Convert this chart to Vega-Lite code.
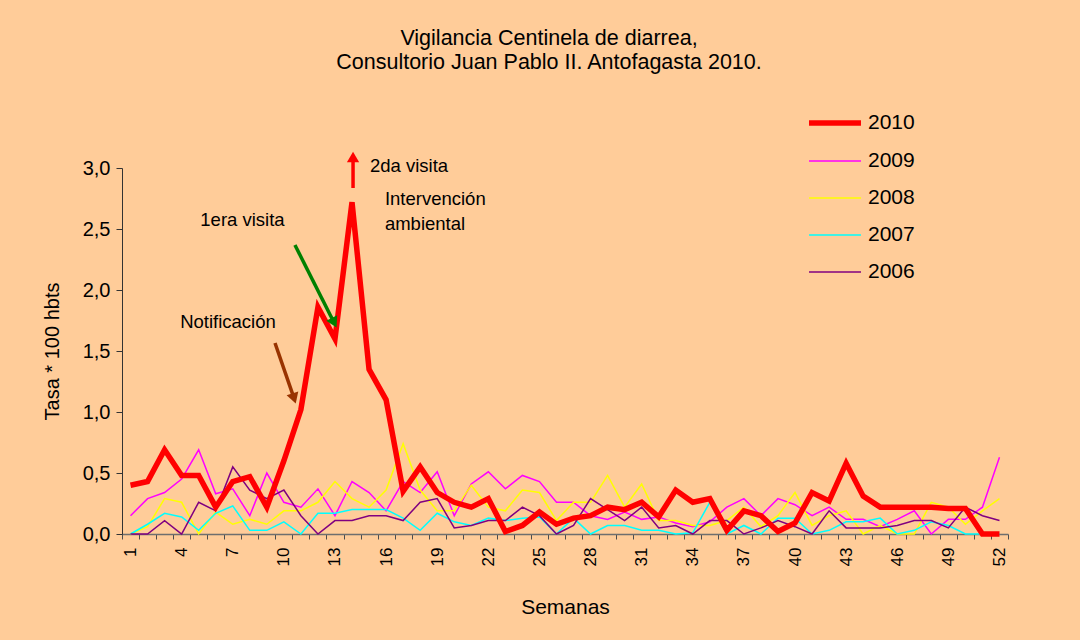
{
  "$schema": "https://vega.github.io/schema/vega-lite/v6.json",
  "width": 886,
  "height": 366,
  "autosize": {"type": "none"},
  "padding": {"left": 122, "top": 168, "right": 72, "bottom": 106},
  "background": "#FFCC99",
  "config": {"view": {"stroke": null}, "font": "Liberation Sans"},
  "title": {
    "text": ["Vigilancia Centinela de diarrea,", "Consultorio Juan Pablo II. Antofagasta 2010."],
    "fontSize": 21.5,
    "font": "Liberation Sans",
    "fontWeight": "normal",
    "color": "#000000",
    "lineHeight": 24,
    "anchor": "middle",
    "frame": "group",
    "dx": -16,
    "offset": 21
  },
  "datasets": {
    "series": [
      {"semana":1,"anio":"2009","tasa":0.15},{"semana":2,"anio":"2009","tasa":0.29},{"semana":3,"anio":"2009","tasa":0.34},{"semana":4,"anio":"2009","tasa":0.45},{"semana":5,"anio":"2009","tasa":0.69},{"semana":6,"anio":"2009","tasa":0.33},{"semana":7,"anio":"2009","tasa":0.37},{"semana":8,"anio":"2009","tasa":0.15},{"semana":9,"anio":"2009","tasa":0.50},{"semana":10,"anio":"2009","tasa":0.26},{"semana":11,"anio":"2009","tasa":0.22},{"semana":12,"anio":"2009","tasa":0.37},{"semana":13,"anio":"2009","tasa":0.15},{"semana":14,"anio":"2009","tasa":0.43},{"semana":15,"anio":"2009","tasa":0.34},{"semana":16,"anio":"2009","tasa":0.19},{"semana":17,"anio":"2009","tasa":0.43},{"semana":18,"anio":"2009","tasa":0.34},{"semana":19,"anio":"2009","tasa":0.51},{"semana":20,"anio":"2009","tasa":0.15},{"semana":21,"anio":"2009","tasa":0.41},{"semana":22,"anio":"2009","tasa":0.51},{"semana":23,"anio":"2009","tasa":0.37},{"semana":24,"anio":"2009","tasa":0.48},{"semana":25,"anio":"2009","tasa":0.43},{"semana":26,"anio":"2009","tasa":0.26},{"semana":27,"anio":"2009","tasa":0.26},{"semana":28,"anio":"2009","tasa":0.15},{"semana":29,"anio":"2009","tasa":0.12},{"semana":30,"anio":"2009","tasa":0.18},{"semana":31,"anio":"2009","tasa":0.12},{"semana":32,"anio":"2009","tasa":0.14},{"semana":33,"anio":"2009","tasa":0.09},{"semana":34,"anio":"2009","tasa":0.06},{"semana":35,"anio":"2009","tasa":0.10},{"semana":36,"anio":"2009","tasa":0.22},{"semana":37,"anio":"2009","tasa":0.29},{"semana":38,"anio":"2009","tasa":0.15},{"semana":39,"anio":"2009","tasa":0.29},{"semana":40,"anio":"2009","tasa":0.24},{"semana":41,"anio":"2009","tasa":0.15},{"semana":42,"anio":"2009","tasa":0.22},{"semana":43,"anio":"2009","tasa":0.12},{"semana":44,"anio":"2009","tasa":0.12},{"semana":45,"anio":"2009","tasa":0.06},{"semana":46,"anio":"2009","tasa":0.12},{"semana":47,"anio":"2009","tasa":0.19},{"semana":48,"anio":"2009","tasa":0.00},{"semana":49,"anio":"2009","tasa":0.12},{"semana":50,"anio":"2009","tasa":0.12},{"semana":51,"anio":"2009","tasa":0.22},{"semana":52,"anio":"2009","tasa":0.63},
      {"semana":1,"anio":"2008","tasa":0.00},{"semana":2,"anio":"2008","tasa":0.06},{"semana":3,"anio":"2008","tasa":0.29},{"semana":4,"anio":"2008","tasa":0.26},{"semana":5,"anio":"2008","tasa":0.00},{"semana":6,"anio":"2008","tasa":0.18},{"semana":7,"anio":"2008","tasa":0.08},{"semana":8,"anio":"2008","tasa":0.12},{"semana":9,"anio":"2008","tasa":0.08},{"semana":10,"anio":"2008","tasa":0.19},{"semana":11,"anio":"2008","tasa":0.19},{"semana":12,"anio":"2008","tasa":0.26},{"semana":13,"anio":"2008","tasa":0.43},{"semana":14,"anio":"2008","tasa":0.29},{"semana":15,"anio":"2008","tasa":0.22},{"semana":16,"anio":"2008","tasa":0.36},{"semana":17,"anio":"2008","tasa":0.74},{"semana":18,"anio":"2008","tasa":0.36},{"semana":19,"anio":"2008","tasa":0.19},{"semana":20,"anio":"2008","tasa":0.19},{"semana":21,"anio":"2008","tasa":0.40},{"semana":22,"anio":"2008","tasa":0.22},{"semana":23,"anio":"2008","tasa":0.19},{"semana":24,"anio":"2008","tasa":0.36},{"semana":25,"anio":"2008","tasa":0.34},{"semana":26,"anio":"2008","tasa":0.11},{"semana":27,"anio":"2008","tasa":0.26},{"semana":28,"anio":"2008","tasa":0.26},{"semana":29,"anio":"2008","tasa":0.48},{"semana":30,"anio":"2008","tasa":0.22},{"semana":31,"anio":"2008","tasa":0.41},{"semana":32,"anio":"2008","tasa":0.11},{"semana":33,"anio":"2008","tasa":0.11},{"semana":34,"anio":"2008","tasa":0.07},{"semana":35,"anio":"2008","tasa":0.07},{"semana":36,"anio":"2008","tasa":0.11},{"semana":37,"anio":"2008","tasa":0.22},{"semana":38,"anio":"2008","tasa":0.06},{"semana":39,"anio":"2008","tasa":0.15},{"semana":40,"anio":"2008","tasa":0.34},{"semana":41,"anio":"2008","tasa":0.07},{"semana":42,"anio":"2008","tasa":0.15},{"semana":43,"anio":"2008","tasa":0.19},{"semana":44,"anio":"2008","tasa":0.00},{"semana":45,"anio":"2008","tasa":0.07},{"semana":46,"anio":"2008","tasa":0.00},{"semana":47,"anio":"2008","tasa":0.00},{"semana":48,"anio":"2008","tasa":0.26},{"semana":49,"anio":"2008","tasa":0.22},{"semana":50,"anio":"2008","tasa":0.08},{"semana":51,"anio":"2008","tasa":0.19},{"semana":52,"anio":"2008","tasa":0.29},
      {"semana":1,"anio":"2007","tasa":0.00},{"semana":2,"anio":"2007","tasa":0.08},{"semana":3,"anio":"2007","tasa":0.17},{"semana":4,"anio":"2007","tasa":0.14},{"semana":5,"anio":"2007","tasa":0.03},{"semana":6,"anio":"2007","tasa":0.17},{"semana":7,"anio":"2007","tasa":0.23},{"semana":8,"anio":"2007","tasa":0.03},{"semana":9,"anio":"2007","tasa":0.03},{"semana":10,"anio":"2007","tasa":0.10},{"semana":11,"anio":"2007","tasa":0.00},{"semana":12,"anio":"2007","tasa":0.17},{"semana":13,"anio":"2007","tasa":0.17},{"semana":14,"anio":"2007","tasa":0.20},{"semana":15,"anio":"2007","tasa":0.20},{"semana":16,"anio":"2007","tasa":0.20},{"semana":17,"anio":"2007","tasa":0.13},{"semana":18,"anio":"2007","tasa":0.03},{"semana":19,"anio":"2007","tasa":0.17},{"semana":20,"anio":"2007","tasa":0.10},{"semana":21,"anio":"2007","tasa":0.07},{"semana":22,"anio":"2007","tasa":0.13},{"semana":23,"anio":"2007","tasa":0.11},{"semana":24,"anio":"2007","tasa":0.13},{"semana":25,"anio":"2007","tasa":0.14},{"semana":26,"anio":"2007","tasa":0.00},{"semana":27,"anio":"2007","tasa":0.13},{"semana":28,"anio":"2007","tasa":0.00},{"semana":29,"anio":"2007","tasa":0.07},{"semana":30,"anio":"2007","tasa":0.07},{"semana":31,"anio":"2007","tasa":0.03},{"semana":32,"anio":"2007","tasa":0.03},{"semana":33,"anio":"2007","tasa":0.00},{"semana":34,"anio":"2007","tasa":0.01},{"semana":35,"anio":"2007","tasa":0.26},{"semana":36,"anio":"2007","tasa":0.00},{"semana":37,"anio":"2007","tasa":0.07},{"semana":38,"anio":"2007","tasa":0.00},{"semana":39,"anio":"2007","tasa":0.13},{"semana":40,"anio":"2007","tasa":0.13},{"semana":41,"anio":"2007","tasa":0.00},{"semana":42,"anio":"2007","tasa":0.03},{"semana":43,"anio":"2007","tasa":0.10},{"semana":44,"anio":"2007","tasa":0.10},{"semana":45,"anio":"2007","tasa":0.13},{"semana":46,"anio":"2007","tasa":0.00},{"semana":47,"anio":"2007","tasa":0.03},{"semana":48,"anio":"2007","tasa":0.10},{"semana":49,"anio":"2007","tasa":0.07},{"semana":50,"anio":"2007","tasa":0.00},{"semana":51,"anio":"2007","tasa":0.00},{"semana":52,"anio":"2007","tasa":0.00},
      {"semana":1,"anio":"2006","tasa":0.00},{"semana":2,"anio":"2006","tasa":0.00},{"semana":3,"anio":"2006","tasa":0.11},{"semana":4,"anio":"2006","tasa":0.00},{"semana":5,"anio":"2006","tasa":0.26},{"semana":6,"anio":"2006","tasa":0.19},{"semana":7,"anio":"2006","tasa":0.55},{"semana":8,"anio":"2006","tasa":0.36},{"semana":9,"anio":"2006","tasa":0.29},{"semana":10,"anio":"2006","tasa":0.36},{"semana":11,"anio":"2006","tasa":0.15},{"semana":12,"anio":"2006","tasa":0.00},{"semana":13,"anio":"2006","tasa":0.11},{"semana":14,"anio":"2006","tasa":0.11},{"semana":15,"anio":"2006","tasa":0.15},{"semana":16,"anio":"2006","tasa":0.15},{"semana":17,"anio":"2006","tasa":0.11},{"semana":18,"anio":"2006","tasa":0.26},{"semana":19,"anio":"2006","tasa":0.29},{"semana":20,"anio":"2006","tasa":0.05},{"semana":21,"anio":"2006","tasa":0.07},{"semana":22,"anio":"2006","tasa":0.11},{"semana":23,"anio":"2006","tasa":0.11},{"semana":24,"anio":"2006","tasa":0.22},{"semana":25,"anio":"2006","tasa":0.15},{"semana":26,"anio":"2006","tasa":0.00},{"semana":27,"anio":"2006","tasa":0.07},{"semana":28,"anio":"2006","tasa":0.29},{"semana":29,"anio":"2006","tasa":0.20},{"semana":30,"anio":"2006","tasa":0.11},{"semana":31,"anio":"2006","tasa":0.22},{"semana":32,"anio":"2006","tasa":0.05},{"semana":33,"anio":"2006","tasa":0.07},{"semana":34,"anio":"2006","tasa":0.00},{"semana":35,"anio":"2006","tasa":0.11},{"semana":36,"anio":"2006","tasa":0.11},{"semana":37,"anio":"2006","tasa":0.00},{"semana":38,"anio":"2006","tasa":0.05},{"semana":39,"anio":"2006","tasa":0.11},{"semana":40,"anio":"2006","tasa":0.06},{"semana":41,"anio":"2006","tasa":0.00},{"semana":42,"anio":"2006","tasa":0.19},{"semana":43,"anio":"2006","tasa":0.05},{"semana":44,"anio":"2006","tasa":0.05},{"semana":45,"anio":"2006","tasa":0.05},{"semana":46,"anio":"2006","tasa":0.07},{"semana":47,"anio":"2006","tasa":0.11},{"semana":48,"anio":"2006","tasa":0.11},{"semana":49,"anio":"2006","tasa":0.05},{"semana":50,"anio":"2006","tasa":0.22},{"semana":51,"anio":"2006","tasa":0.15},{"semana":52,"anio":"2006","tasa":0.11},
      {"semana":1,"anio":"2010","tasa":0.40},{"semana":2,"anio":"2010","tasa":0.43},{"semana":3,"anio":"2010","tasa":0.69},{"semana":4,"anio":"2010","tasa":0.48},{"semana":5,"anio":"2010","tasa":0.48},{"semana":6,"anio":"2010","tasa":0.22},{"semana":7,"anio":"2010","tasa":0.43},{"semana":8,"anio":"2010","tasa":0.47},{"semana":9,"anio":"2010","tasa":0.22},{"semana":10,"anio":"2010","tasa":0.60},{"semana":11,"anio":"2010","tasa":1.02},{"semana":12,"anio":"2010","tasa":1.86},{"semana":13,"anio":"2010","tasa":1.60},{"semana":14,"anio":"2010","tasa":2.72},{"semana":15,"anio":"2010","tasa":1.35},{"semana":16,"anio":"2010","tasa":1.10},{"semana":17,"anio":"2010","tasa":0.35},{"semana":18,"anio":"2010","tasa":0.55},{"semana":19,"anio":"2010","tasa":0.34},{"semana":20,"anio":"2010","tasa":0.26},{"semana":21,"anio":"2010","tasa":0.22},{"semana":22,"anio":"2010","tasa":0.29},{"semana":23,"anio":"2010","tasa":0.02},{"semana":24,"anio":"2010","tasa":0.07},{"semana":25,"anio":"2010","tasa":0.18},{"semana":26,"anio":"2010","tasa":0.08},{"semana":27,"anio":"2010","tasa":0.13},{"semana":28,"anio":"2010","tasa":0.15},{"semana":29,"anio":"2010","tasa":0.22},{"semana":30,"anio":"2010","tasa":0.20},{"semana":31,"anio":"2010","tasa":0.26},{"semana":32,"anio":"2010","tasa":0.14},{"semana":33,"anio":"2010","tasa":0.36},{"semana":34,"anio":"2010","tasa":0.26},{"semana":35,"anio":"2010","tasa":0.29},{"semana":36,"anio":"2010","tasa":0.03},{"semana":37,"anio":"2010","tasa":0.19},{"semana":38,"anio":"2010","tasa":0.15},{"semana":39,"anio":"2010","tasa":0.02},{"semana":40,"anio":"2010","tasa":0.09},{"semana":41,"anio":"2010","tasa":0.34},{"semana":42,"anio":"2010","tasa":0.27},{"semana":43,"anio":"2010","tasa":0.58},{"semana":44,"anio":"2010","tasa":0.31},{"semana":45,"anio":"2010","tasa":0.22},{"semana":46,"anio":"2010","tasa":0.22},{"semana":47,"anio":"2010","tasa":0.22},{"semana":48,"anio":"2010","tasa":0.22},{"semana":49,"anio":"2010","tasa":0.21},{"semana":50,"anio":"2010","tasa":0.21},{"semana":51,"anio":"2010","tasa":0.00},{"semana":52,"anio":"2010","tasa":0.00}
    ],
    "arrows": [
      {"flecha":"notif","semana":9.48,"tasa":1.566,"semana2":10.6,"tasa2":1.112},
      {"flecha":"visita1","semana":10.65,"tasa":2.369,"semana2":12.95,"tasa2":1.732},
      {"flecha":"visita2","semana":14.06,"tasa":2.836,"semana2":14.06,"tasa2":3.09}
    ],
    "notes_center": [
      {"texto":"Notificación","semana":6.72,"tasa":1.738},
      {"texto":"1era visita","semana":7.57,"tasa":2.574}
    ],
    "notes_left": [
      {"texto":"2da visita","semana":15.05,"tasa":3.019},
      {"texto":"Intervención","semana":15.93,"tasa":2.746},
      {"texto":"ambiental","semana":15.93,"tasa":2.541}
    ]
  },
  "layer": [
    {
      "data": {"name": "series"},
      "transform": [{"filter": "datum.anio != '2010'"}],
      "mark": {"type": "line", "clip": false},
      "encoding": {
        "x": {
          "field": "semana", "type": "quantitative",
          "scale": {"domain": [0.5, 52.5], "nice": false, "zero": false},
          "axis": {
            "values": [0.5,1.5,2.5,3.5,4.5,5.5,6.5,7.5,8.5,9.5,10.5,11.5,12.5,13.5,14.5,15.5,16.5,17.5,18.5,19.5,20.5,21.5,22.5,23.5,24.5,25.5,26.5,27.5,28.5,29.5,30.5,31.5,32.5,33.5,34.5,35.5,36.5,37.5,38.5,39.5,40.5,41.5,42.5,43.5,44.5,45.5,46.5,47.5,48.5,49.5,50.5,51.5,52.5],
            "tickCount": 200,
            "labelExpr": "(datum.value < 52 && (datum.value + 0.5) % 3 == 1) ? format(datum.value + 0.5, 'd') : ''",
            "labelOffset": 8.5,
            "labelAngle": -90,
            "labelFontSize": 17,
            "labelColor": "#000000",
            "labelPadding": 8,
            "labelOverlap": false,
            "labelBound": false,
            "labelFlush": false,
            "tickSize": 5,
            "tickColor": "#4d4d4d",
            "domainColor": "#6e6e6e",
            "domainWidth": 1.5,
            "grid": false,
            "title": "Semanas",
            "titleFontSize": 21,
            "titleFontWeight": "normal",
            "titleColor": "#000000",
            "titlePadding": 31
          }
        },
        "y": {
          "field": "tasa", "type": "quantitative",
          "scale": {"domain": [0, 3], "nice": false},
          "axis": {
            "values": [0, 0.5, 1, 1.5, 2, 2.5, 3],
            "labelExpr": "replace(format(datum.value, '.1f'), '.', ',')",
            "labelFontSize": 20,
            "labelColor": "#000000",
            "labelPadding": 6,
            "tickSize": 6,
            "tickColor": "#333333",
            "domainColor": "#333333",
            "grid": false,
            "title": "Tasa * 100 hbts",
            "titleFontSize": 20,
            "titleFontWeight": "normal",
            "titleColor": "#000000",
            "titlePadding": 20
          }
        },
        "color": {
          "field": "anio", "type": "ordinal",
          "scale": {"type": "ordinal", "domain": ["2010", "2009", "2008", "2007", "2006"], "range": ["#FF0000", "#FF00FF", "#FFFF00", "#00FFFF", "#800080"]},
          "legend": {
            "orient": "none", "legendX": 684, "legendY": -74, "title": null,
            "labelFontSize": 21, "labelColor": "#000000", "labelOffset": 4,
            "symbolType": "stroke", "symbolSize": 2700, "rowPadding": -1.5
          }
        },
        "strokeWidth": {
          "field": "anio", "type": "ordinal",
          "scale": {"type": "ordinal", "domain": ["2010", "2009", "2008", "2007", "2006"], "range": [5.5, 1.5, 1.5, 1.5, 1.5]},
          "legend": {
            "orient": "none", "legendX": 684, "legendY": -74, "title": null,
            "labelFontSize": 21, "labelColor": "#000000", "labelOffset": 4,
            "symbolType": "stroke", "symbolSize": 2700, "rowPadding": -1.5
          }
        }
      }
    },
    {
      "data": {"name": "series"},
      "transform": [{"filter": "datum.anio == '2010'"}],
      "mark": {"type": "line", "clip": false, "color": "#FF0000", "strokeWidth": 5.5},
      "encoding": {
        "x": {"field": "semana", "type": "quantitative"},
        "y": {"field": "tasa", "type": "quantitative"}
      }
    },
    {
      "data": {"name": "arrows"},
      "transform": [{"filter": "datum.flecha == 'notif'"}],
      "mark": {"type": "rule", "color": "#993300", "strokeWidth": 3.5},
      "encoding": {
        "x": {"field": "semana", "type": "quantitative"},
        "y": {"field": "tasa", "type": "quantitative"},
        "x2": {"field": "semana2"},
        "y2": {"field": "tasa2"}
      }
    },
    {
      "data": {"name": "arrows"},
      "transform": [{"filter": "datum.flecha == 'notif'"}],
      "mark": {"type": "point", "shape": "triangle-up", "filled": true, "size": 150, "angle": 162, "color": "#993300", "opacity": 1},
      "encoding": {
        "x": {"field": "semana2", "type": "quantitative"},
        "y": {"field": "tasa2", "type": "quantitative"}
      }
    },
    {
      "data": {"name": "arrows"},
      "transform": [{"filter": "datum.flecha == 'visita1'"}],
      "mark": {"type": "rule", "color": "#008000", "strokeWidth": 3.5},
      "encoding": {
        "x": {"field": "semana", "type": "quantitative"},
        "y": {"field": "tasa", "type": "quantitative"},
        "x2": {"field": "semana2"},
        "y2": {"field": "tasa2"}
      }
    },
    {
      "data": {"name": "arrows"},
      "transform": [{"filter": "datum.flecha == 'visita1'"}],
      "mark": {"type": "point", "shape": "triangle-up", "filled": true, "size": 150, "angle": 153, "color": "#008000", "opacity": 1},
      "encoding": {
        "x": {"field": "semana2", "type": "quantitative"},
        "y": {"field": "tasa2", "type": "quantitative"}
      }
    },
    {
      "data": {"name": "arrows"},
      "transform": [{"filter": "datum.flecha == 'visita2'"}],
      "mark": {"type": "rule", "color": "#FF0000", "strokeWidth": 3.5},
      "encoding": {
        "x": {"field": "semana", "type": "quantitative"},
        "y": {"field": "tasa", "type": "quantitative"},
        "x2": {"field": "semana2"},
        "y2": {"field": "tasa2"}
      }
    },
    {
      "data": {"name": "arrows"},
      "transform": [{"filter": "datum.flecha == 'visita2'"}],
      "mark": {"type": "point", "shape": "triangle-up", "filled": true, "size": 150, "angle": 0, "color": "#FF0000", "opacity": 1},
      "encoding": {
        "x": {"field": "semana2", "type": "quantitative"},
        "y": {"field": "tasa2", "type": "quantitative"}
      }
    },
    {
      "data": {"name": "notes_center"},
      "mark": {"type": "text", "align": "center", "baseline": "middle", "fontSize": 18.5, "color": "#000000", "font": "Liberation Sans"},
      "encoding": {
        "x": {"field": "semana", "type": "quantitative"},
        "y": {"field": "tasa", "type": "quantitative"},
        "text": {"field": "texto"}
      }
    },
    {
      "data": {"name": "notes_left"},
      "mark": {"type": "text", "align": "left", "baseline": "middle", "fontSize": 18.5, "color": "#000000", "font": "Liberation Sans"},
      "encoding": {
        "x": {"field": "semana", "type": "quantitative"},
        "y": {"field": "tasa", "type": "quantitative"},
        "text": {"field": "texto"}
      }
    }
  ]
}
